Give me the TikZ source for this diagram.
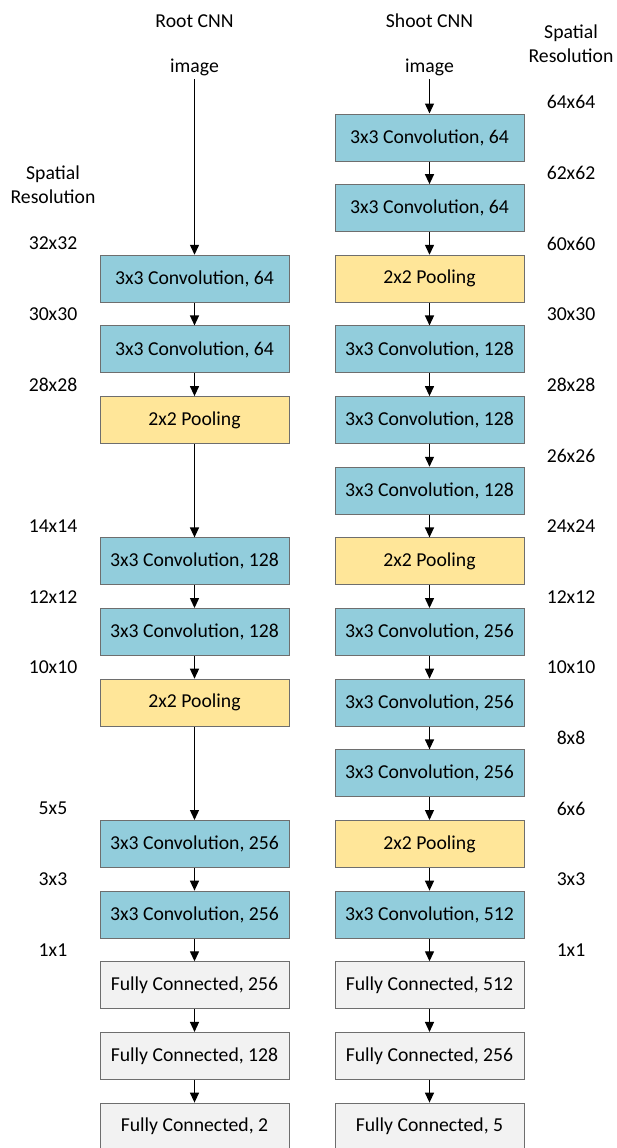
\documentclass[tikz,border=0pt]{standalone}
\usepackage{fontspec}
\setmainfont{Carlito}
\usetikzlibrary{arrows.meta}
\definecolor{convblue}{HTML}{92CDDC}
\definecolor{poolyellow}{HTML}{FFE699}
\definecolor{fcgrey}{HTML}{F2F2F2}
\definecolor{boxedge}{HTML}{6E6E6E}
\begin{document}
\begin{tikzpicture}[x=1pt,y=-1pt,font=\fontsize{19.7}{23.5}\selectfont,
	layer/.style={draw=boxedge,line width=1pt,minimum width=189pt,minimum height=47pt,inner sep=0pt},
	conv/.style={layer,fill=convblue},
	pool/.style={layer,fill=poolyellow},
	fc/.style={layer,fill=fcgrey},
	flow/.style={-{Triangle[length=10pt,width=9pt]},line width=1.3pt},
	res/.style={align=center}]
			\useasboundingbox (0,0) rectangle (616,1148);
			% titles and inputs
			\node (rtitle) at (194.5,20.7) {Root CNN};
			\node (stitle) at (429.5,20.7) {Shoot CNN};
			\node (rimg) at (194.5,67) {image};
			\node (simg) at (429.5,67) {image};
			\node[res] (lres) at (53,184.7) {Spatial\\Resolution};
			\node[res] (rres) at (571,43.5) {Spatial\\Resolution};
			% root CNN
			\node[conv] (r2) at (194.5,278.8) {3x3 Convolution, 64};
			\node[conv] (r3) at (194.5,349.45) {3x3 Convolution, 64};
			\node[pool] (r4) at (194.5,420.1) {2x2 Pooling};
			\node[conv] (r6) at (194.5,561.4) {3x3 Convolution, 128};
			\node[conv] (r7) at (194.5,632.05) {3x3 Convolution, 128};
			\node[pool] (r8) at (194.5,702.7) {2x2 Pooling};
			\node[conv] (r10) at (194.5,844) {3x3 Convolution, 256};
			\node[conv] (r11) at (194.5,914.65) {3x3 Convolution, 256};
			\node[fc] (r12) at (194.5,985.3) {Fully Connected, 256};
			\node[fc] (r13) at (194.5,1055.95) {Fully Connected, 128};
			\node[fc] (r14) at (194.5,1126.6) {Fully Connected, 2};
			% shoot CNN
			\node[conv] (s0) at (429.5,137.5) {3x3 Convolution, 64};
			\node[conv] (s1) at (429.5,208.15) {3x3 Convolution, 64};
			\node[pool] (s2) at (429.5,278.8) {2x2 Pooling};
			\node[conv] (s3) at (429.5,349.45) {3x3 Convolution, 128};
			\node[conv] (s4) at (429.5,420.1) {3x3 Convolution, 128};
			\node[conv] (s5) at (429.5,490.75) {3x3 Convolution, 128};
			\node[pool] (s6) at (429.5,561.4) {2x2 Pooling};
			\node[conv] (s7) at (429.5,632.05) {3x3 Convolution, 256};
			\node[conv] (s8) at (429.5,702.7) {3x3 Convolution, 256};
			\node[conv] (s9) at (429.5,773.35) {3x3 Convolution, 256};
			\node[pool] (s10) at (429.5,844) {2x2 Pooling};
			\node[conv] (s11) at (429.5,914.65) {3x3 Convolution, 512};
			\node[fc] (s12) at (429.5,985.3) {Fully Connected, 512};
			\node[fc] (s13) at (429.5,1055.95) {Fully Connected, 256};
			\node[fc] (s14) at (429.5,1126.6) {Fully Connected, 5};
			% spatial resolution, root side
			\node (l32) at (53,243.5) {32x32};
			\node (l30) at (53,314.15) {30x30};
			\node (l28) at (53,384.8) {28x28};
			\node (l14) at (53,526.1) {14x14};
			\node (l12) at (53,596.75) {12x12};
			\node (l10) at (53,667.4) {10x10};
			\node (l5) at (53,808.7) {5x5};
			\node (l3) at (53,879.35) {3x3};
			\node (l1) at (53,950) {1x1};
			% spatial resolution, shoot side
			\node (s64) at (571,102.2) {64x64};
			\node (s62) at (571,172.85) {62x62};
			\node (s60) at (571,243.5) {60x60};
			\node (s30) at (571,314.15) {30x30};
			\node (s28) at (571,384.8) {28x28};
			\node (s26) at (571,455.45) {26x26};
			\node (s24) at (571,526.1) {24x24};
			\node (s12r) at (571,596.75) {12x12};
			\node (s10r) at (571,667.4) {10x10};
			\node (s8r) at (571,738.05) {8x8};
			\node (s6r) at (571,808.7) {6x6};
			\node (s3r) at (571,879.35) {3x3};
			\node (s1r) at (571,950) {1x1};
			% root arrows
			\draw[flow] (rimg) -- (r2);
			\draw[flow] (r2) -- (r3);
			\draw[flow] (r3) -- (r4);
			\draw[flow] (r4) -- (r6);
			\draw[flow] (r6) -- (r7);
			\draw[flow] (r7) -- (r8);
			\draw[flow] (r8) -- (r10);
			\draw[flow] (r10) -- (r11);
			\draw[flow] (r11) -- (r12);
			\draw[flow] (r12) -- (r13);
			\draw[flow] (r13) -- (r14);
			% shoot arrows
			\draw[flow] (simg) -- (s0);
			\draw[flow] (s0) -- (s1);
			\draw[flow] (s1) -- (s2);
			\draw[flow] (s2) -- (s3);
			\draw[flow] (s3) -- (s4);
			\draw[flow] (s4) -- (s5);
			\draw[flow] (s5) -- (s6);
			\draw[flow] (s6) -- (s7);
			\draw[flow] (s7) -- (s8);
			\draw[flow] (s8) -- (s9);
			\draw[flow] (s9) -- (s10);
			\draw[flow] (s10) -- (s11);
			\draw[flow] (s11) -- (s12);
			\draw[flow] (s12) -- (s13);
			\draw[flow] (s13) -- (s14);
		\end{tikzpicture}
\end{document}
